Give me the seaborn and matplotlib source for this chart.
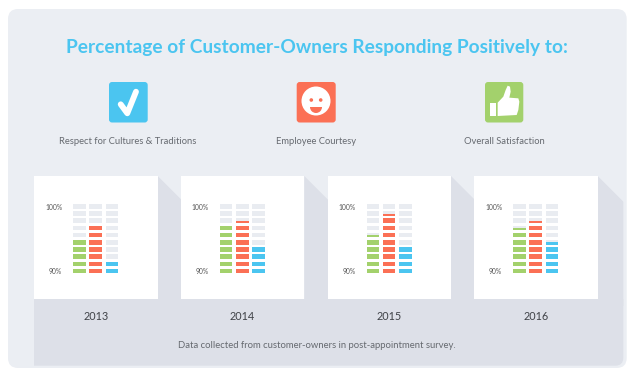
import numpy as np
import pandas as pd
import matplotlib.pyplot as plt
import seaborn as sns
from matplotlib.patches import FancyBboxPatch, Polygon, Circle, Rectangle, Wedge

# values, percent positive
years = ['2013', '2014', '2015', '2016']
metrics = ['Cultures', 'Courtesy', 'Satisfaction']
cultures = [95, 97, 95.5, 96.5]
courtesy = [97, 97.5, 98.5, 97.5]
satisfaction = [92, 94, 94, 94.5]
colors = ['#a3d16c', '#fb7055', '#4bc5f0']

W, H = 634, 373
PANEL = '#ebeef3'
DARK = '#dde0e8'
EMPTY = '#e9ecf1'
CELL = 0.65

sns.set_style('white')
plt.rcParams['font.family'] = ['Lato', 'DejaVu Sans']

fig = plt.figure(figsize=(W / 100, H / 100), dpi=100)
bg = fig.add_axes([0, 0, 1, 1])
bg.set_xlim(0, W)
bg.set_ylim(H, 0)
bg.axis('off')


def rbox(x0, y0, x1, y1, r, color):
    p = FancyBboxPatch((x0 + r, y0 + r), x1 - x0 - 2 * r, y1 - y0 - 2 * r,
                       boxstyle='round,pad=%f,rounding_size=%f' % (r, r),
                       fc=color, ec='none', mutation_aspect=1)
    bg.add_patch(p)
    return p


rbox(8, 9, 626.7, 368, 10, PANEL)

# dark floor + folded shadows behind the cards, clipped to the rounded inner edge
clip = rbox(20, 100, 623.3, 365.7, 8, 'none')
card_left = [34, 181, 327.7, 474]
card_right = [157.7, 304.3, 451, 597.7]
card_top, card_bottom = 176, 299
col_start = [73.3, 220, 366.7, 513.3]
for right in card_right:
    tri = Polygon([(right, card_top), (right + 130, card_top + 130), (right, card_top + 130)],
                  fc=DARK, ec='none')
    bg.add_patch(tri)
    tri.set_clip_path(clip)
floor = Rectangle((34, card_bottom), 600, 70, fc=DARK, ec='none')
bg.add_patch(floor)
floor.set_clip_path(clip)
for left, right in zip(card_left, card_right):
    bg.add_patch(Rectangle((left, card_top), right - left, card_bottom - card_top, fc='white', ec='none'))

# icons
rbox(109, 82, 147.7, 122.5, 3, '#4bc5f0')
bg.plot([120.7, 127.3, 136], [104.3, 113.3, 91.7], color='white', lw=4.2,
        solid_capstyle='round', solid_joinstyle='round')

rbox(296.7, 82, 335.7, 122.5, 3, '#fb7055')
bg.add_patch(Circle((316, 101), 14.5, fc='white', ec='none'))
bg.add_patch(Circle((311.3, 100), 1.8, fc='#fb7055', ec='none'))
bg.add_patch(Circle((320.7, 100), 1.8, fc='#fb7055', ec='none'))
bg.add_patch(Wedge((316, 107), 6, 0, 180, fc='#fb7055', ec='none'))

rbox(485, 82, 523.3, 122.5, 3, '#a3d16c')
bg.add_patch(Rectangle((490, 102.7), 6, 13.3, fc='white', ec='none'))
thumb = [(68, 83), (85, 65), (92, 45), (98, 32), (105, 35), (107, 50), (103, 68),
         (130, 70), (133, 80), (130, 105), (125, 120), (68, 123)]
bg.add_patch(Polygon([(475 + x / 3, 75 + y / 3) for x, y in thumb], fc='white', ec='none'))

# text
bg.text(317, 48, 'Percentage of Customer-Owners Responding Positively to:', color='#4bc5f0',
        fontsize=13.75, fontweight='bold', ha='center', va='center')
bg.text(128, 141.5, 'Respect for Cultures & Traditions', color='#666a70', fontsize=6.75, ha='center', va='center')
bg.text(316, 141.5, 'Employee Courtesy', color='#666a70', fontsize=6.75, ha='center', va='center')
bg.text(504, 141.5, 'Overall Satisfaction', color='#666a70', fontsize=6.75, ha='center', va='center')
bg.text(317, 346, 'Data collected from customer-owners in post-appointment survey.', color='#666a70',
        fontsize=6.85, ha='center', va='center')

# one small stacked-cell chart per year
ROW_TOP, ROW_BOTTOM = 201.5, 273.5
for i, year in enumerate(years):
    x0 = col_start[i] - 1.9
    ax = fig.add_axes([x0 / W, 1 - ROW_BOTTOM / H, 48.6 / W, (ROW_BOTTOM - ROW_TOP) / H])
    ax.patch.set_alpha(0)
    values = np.array([cultures[i], courtesy[i], satisfaction[i]])
    for k in range(10):
        track = pd.DataFrame({'metric': metrics, 'h': [CELL] * 3})
        sns.barplot(data=track, x='metric', y='h', color=EMPTY, saturation=1, width=0.77,
                    bottom=90 + k, errorbar=None, linewidth=0, ax=ax)
        fill = pd.DataFrame({'metric': metrics, 'h': np.clip(values - 90 - k, 0, 1) * CELL})
        sns.barplot(data=fill, x='metric', y='h', hue='metric', palette=colors, saturation=1, width=0.77,
                    bottom=90 + k, errorbar=None, legend=False, linewidth=0, ax=ax)
    ax.set_xlim(-0.5, 2.5)
    ax.set_ylim(90, 100)
    ax.set_xlabel('')
    ax.set_ylabel('')
    ax.set_xticks([])
    ax.set_yticks([99.2, 90.35])
    ax.set_yticklabels(['100%', '90%'], fontsize=4.9, color='#555555')
    ax.tick_params(axis='y', length=0, pad=6.5)
    sns.despine(ax=ax, left=True, bottom=True)
    bg.text((card_left[i] + card_right[i]) / 2, 317, year, color='#3f4247', fontsize=7.8,
            ha='center', va='center')

fig.savefig('out.png', dpi=100)
